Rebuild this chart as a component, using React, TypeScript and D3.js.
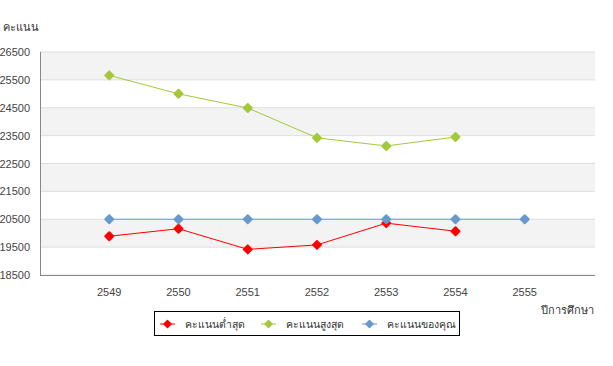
import * as d3 from "d3";
import React from "react";

const years = ["2549", "2550", "2551", "2552", "2553", "2554", "2555"];
const minScores = [19890, 20160, 19420, 19580, 20360, 20070];
const maxScores = [25660, 25000, 24490, 23420, 23130, 23450];
const yourScores = [20500, 20500, 20500, 20500, 20500, 20500, 20500];
const yTicks = [18500, 19500, 20500, 21500, 22500, 23500, 24500, 25500, 26500];
const seriesNames = ["คะแนนต่ำสุด", "คะแนนสูงสุด", "คะแนนของคุณ"];
const seriesColors = ["#ff0000", "#a3c93a", "#6699cc"];

const W = 613, H = 366;
const left = 40, right = 595, top = 52, bottom = 275;
const font = "'Liberation Sans', Arial, sans-serif";

function diamond(cx: number, cy: number, r: number) {
  return `M${cx},${cy - r}L${cx + r},${cy}L${cx},${cy + r}L${cx - r},${cy}Z`;
}

export default function App() {
  const x = d3.scalePoint<string>().domain(years).range([left, right - 1]).padding(1);
  const y = d3.scaleLinear().domain([18500, 26500]).range([bottom, top]);

  const series = [minScores, maxScores, yourScores];
  const line = d3
    .line<number>()
    .x((_, i) => x(years[i])!)
    .y((d) => y(d));

  // alternating bands
  const bands = yTicks.slice(0, -1).map((t, i) => ({ lo: t, hi: yTicks[i + 1], shade: i % 2 === 1 }));

  return (
    <svg width={W} height={H} style={{ position: "absolute", left: 0, top: 0 }} fontFamily={font}>
      {bands.map((b, i) =>
        b.shade ? (
          <rect key={i} x={left} y={y(b.hi)} width={right - left} height={y(b.lo) - y(b.hi)} fill="#f3f3f3" />
        ) : null
      )}
      {yTicks.map((t) => (
        <line key={t} x1={left} x2={right} y1={y(t)} y2={y(t)} stroke="#dedede" strokeWidth={1} />
      ))}
      <line x1={left + 0.5} x2={left + 0.5} y1={top} y2={bottom} stroke="#888" />
      <line x1={left} x2={right} y1={bottom + 0.5} y2={bottom + 0.5} stroke="#888" />
      {yTicks.map((t) => (
        <text key={t} x={30} y={y(t) + 4} textAnchor="end" fontSize={11} fill="#444">
          {t}
        </text>
      ))}
      {years.map((yr) => (
        <text key={yr} x={x(yr)} y={296} textAnchor="middle" fontSize={11} fill="#444">
          {yr}
        </text>
      ))}
      <text x={3} y={31} fontSize={11} fill="#333">คะแนน</text>
      <text x={594} y={314} textAnchor="end" fontSize={11} fill="#333">ปีการศึกษา</text>

      {series.map((s, k) => (
        <g key={k}>
          <path d={line(s) ?? ""} fill="none" stroke={seriesColors[k]} strokeWidth={1} />
          {s.map((v, i) => (
            <path
              key={i}
              d={diamond(x(years[i])!, y(v), 4)}
              fill={seriesColors[k]}
              stroke={seriesColors[k]}
              strokeWidth={2}
              strokeLinejoin="round"
            />
          ))}
        </g>
      ))}

      <rect x={154.5} y={311.5} width={305} height={24} fill="#fff" stroke="#000" strokeWidth={1} />
      {seriesNames.map((n, k) => {
        const lx = 160 + k * 101;
        return (
          <g key={n}>
            <line x1={lx} x2={lx + 15} y1={324} y2={324} stroke={seriesColors[k]} />
            <path d={diamond(lx + 7.5, 324, 3.5)} fill={seriesColors[k]} stroke={seriesColors[k]} strokeWidth={1.5} strokeLinejoin="round" />
            <text x={lx + 25} y={328} fontSize={10.5} fill="#333">{n}</text>
          </g>
        );
      })}
    </svg>
  );
}
